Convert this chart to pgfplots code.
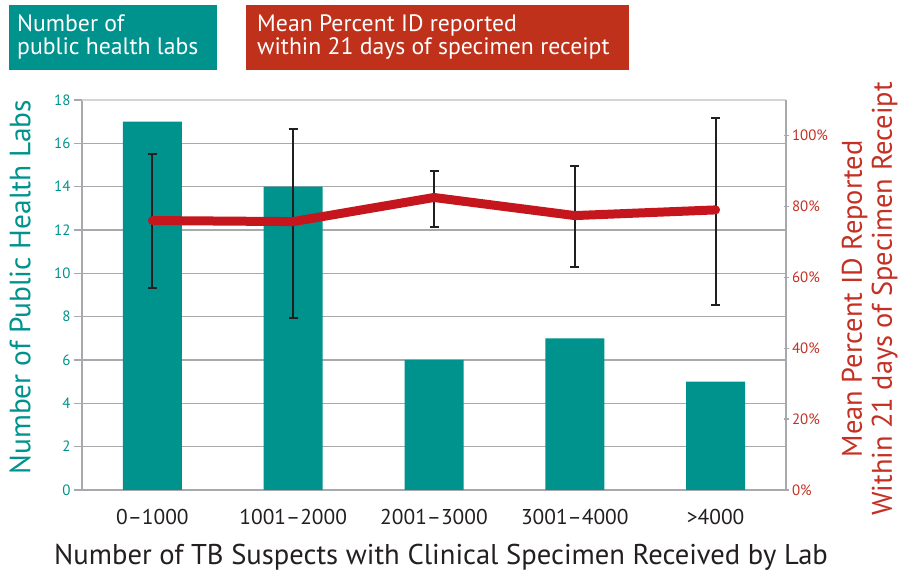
\documentclass[border=0pt]{standalone}
\usepackage{pgfplots}
\pgfplotsset{compat=1.18}
\usepackage{fontspec}
\setmainfont{PT Sans}

\definecolor{labteal}{RGB}{0,146,141}
\definecolor{linered}{RGB}{196,22,28}
\definecolor{boxred}{RGB}{191,49,26}
\definecolor{txtred}{RGB}{196,48,36}
\definecolor{axgray}{RGB}{167,169,172}
\definecolor{topgray}{RGB}{212,213,214}
\definecolor{darktxt}{RGB}{35,31,32}

% bars: number of labs per category
\pgfplotstableread{
x labs
0 17
1 14
2 6
3 7
4 5
}\labs

\begin{document}
\begin{tikzpicture}
\useasboundingbox (0,0) rectangle (899bp,573bp);

% header boxes
\fill[labteal] (9bp,568bp) rectangle (217bp,503bp);
\fill[boxred] (246bp,568bp) rectangle (629bp,503bp);
\tikzset{hdr/.style={anchor=base west, text=white, inner sep=0pt,
      font=\fontsize{23.8}{24}\selectfont}}
\node[hdr] at (17bp,541bp) {Number of};
\node[hdr] at (17bp,518bp) {public health labs};
\node[hdr] at (257bp,541bp) {Mean Percent ID reported};
\node[hdr] at (257bp,518bp) {within 21 days of specimen receipt};

\begin{axis}[
    at={(82bp,83bp)}, anchor=south west,
    scale only axis, width=704bp, height=390bp,
    xmin=-0.5, xmax=4.5,
    ymin=0, ymax=18,
    axis x line*=bottom, axis y line*=left,
    axis line style={axgray, line width=1.5bp, -},
    xtick=data,
    xticklabels={0--1000, 1001--2000, 2001--3000, 3001--4000, >4000},
    xtick style={draw=none},
    xticklabel style={font=\fontsize{21.5}{22}\selectfont, text=darktxt, yshift=-8bp},
    ytick={0,2,...,16},
    extra y ticks={18},
    extra y tick style={grid style={topgray, line width=1.2bp}},
    ymajorgrids,
    grid style={axgray, line width=1.5bp},
    tick align=outside, major tick length=8bp,
    ytick style={axgray, line width=1.5bp},
    yticklabel style={font=\fontsize{15}{16}\selectfont, text=labteal},
    /pgf/number format/assume math mode=true,
    xlabel={Number of TB Suspects with Clinical Specimen Received by Lab},
    xlabel style={font=\fontsize{28.7}{30}\selectfont, text=darktxt,
                  at={(axis description cs:0.51,-0.172)}, anchor=center},
    ylabel={Number of Public Health Labs},
    ylabel style={font=\fontsize{29.5}{30}\selectfont, text=labteal,
                  at={(axis description cs:-0.088,0.52)}, anchor=center},
]
\addplot[ybar, bar width=59bp, fill=labteal, draw=none] table[x=x, y=labs] {\labs};
\end{axis}

\begin{axis}[
    at={(82bp,83bp)}, anchor=south west,
    scale only axis, width=704bp, height=390bp,
    xmin=-0.5, xmax=4.5,
    ymin=0, ymax=110,
    axis x line=none, axis y line*=right,
    axis line style={axgray, line width=1.5bp, -},
    ytick={0,20,...,100},
    yticklabel={\pgfmathprintnumber{\tick}\%},
    tick align=center, major tick length=5bp,
    ytick style={axgray, line width=1.2bp},
    yticklabel style={font=\fontsize{15}{16}\selectfont, text=txtred},
    /pgf/number format/assume math mode=true,
    ylabel={Mean Percent ID Reported\\Within 21 days of Specimen Receipt},
    ylabel style={font=\fontsize{28.5}{30}\selectfont, text=txtred, align=center,
                  at={(axis description cs:1.119,0.49)}, anchor=center, rotate=0},
]
\addplot[draw=none, mark=none, forget plot,
    error bars/.cd, y dir=both, y explicit,
    error bar style={darktxt, line width=2bp},
    error mark options={darktxt, line width=2bp, mark size=4.5bp, rotate=90}]
coordinates {
    (0,76.0)  += (0,18.8) -= (0,19.1)
    (1,75.7)  += (0,26.2) -= (0,27.2)
    (2,82.5)  += (0,7.4)  -= (0,8.4)
    (3,77.4)  += (0,13.9) -= (0,14.6)
    (4,79.0)  += (0,26.0) -= (0,26.8)
};
\addplot[linered, line width=9bp, line cap=round, line join=round, mark=none]
coordinates {
    (0,76.0)
    (1,75.7)
    (2,82.5)
    (3,77.4)
    (4,79.0)
};
\end{axis}
\end{tikzpicture}
\end{document}
